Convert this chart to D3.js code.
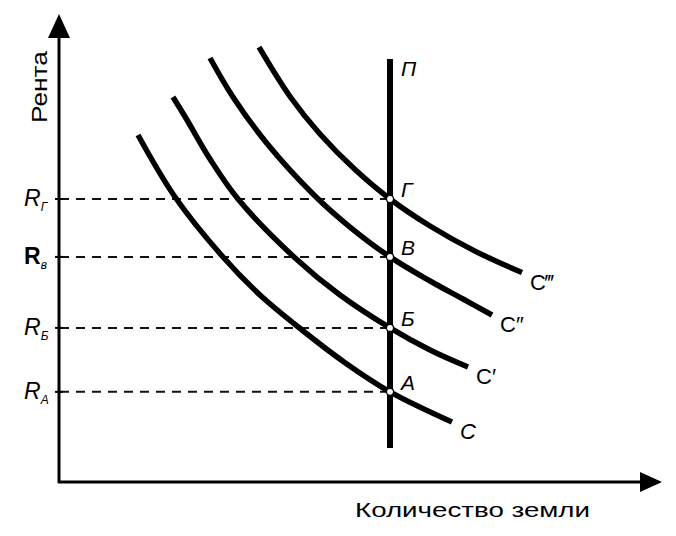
<!DOCTYPE html>
<html><head><meta charset="utf-8">
<script src="https://cdn.jsdelivr.net/npm/d3@7"></script>
<style>body{margin:0;background:#fff}svg{display:block}</style>
</head><body><div id="chart"></div>
<script>
// ---- data (units: quantity of land 0..100, rent 0..100) ----
const supplyX = 55;                    // П: fixed quantity of land
const supplyRange = [7.3, 90.6];
const rentLevels = [60.6, 48.2, 33.0, 19.3];           // R_Г, R_В, R_Б, R_А
const rentLabels = [["R","Г",true],["R","в",false],["R","Б",true],["R","A",true]];
const pointLabels = ["Г","В","Б","А"];
const curveNames = ["C","C′","C″","C‴"];
const curveC  = [[13,74.3],[19.17,61.03],[27.17,48.18],[33.33,40.04],[40.33,32.55],[47.5,25.55],[55,19.3],[65.33,12.85]];
const curveC1 = [[18.83,82.44],[21.17,77.52],[25,69.16],[29.67,60.6],[39,48.2],[46.67,40.04],[55,33],[61.67,28.27],[68,24.63]];
const curveC2 = [[25,90.79],[28.83,82.44],[34.5,72.48],[42.33,61.46],[48.33,54.6],[55,48.2],[61.67,43.04],[67.17,39.19],[72,35.76]];
const curveC3 = [[33.17,93.1],[38.33,82.55],[43.33,74.52],[49.17,66.9],[55,60.6],[61.67,54.82],[69.17,49.44],[77,44.84]];
const curves = [curveC, curveC1, curveC2, curveC3];
const xTitle = "Количество земли";
const yTitle = "Рента";

// ---- layout ----
const W = 676, H = 536;
const svg = d3.select("#chart").append("svg").attr("width", W).attr("height", H);
const x = d3.scaleLinear().domain([0,100]).range([60,660]);
const y = d3.scaleLinear().domain([0,100]).range([482,15]);
const font = "'Liberation Sans', Arial, sans-serif";

// dashed rent lines
svg.selectAll("line.dash").data(rentLevels).join("line")
  .attr("x1", x(0)).attr("x2", x(supplyX))
  .attr("y1", d => y(d)).attr("y2", d => y(d))
  .attr("stroke", "#111").attr("stroke-width", 2)
  .attr("stroke-dasharray", "9,7");

// axes
svg.append("line").attr("x1", x(0)-1).attr("x2", x(0)-1).attr("y1", y(0)+1).attr("y2", y(100)+20)
  .attr("stroke","#000").attr("stroke-width",3);
svg.append("path").attr("d", `M${x(0)-12},${y(100)+23} L${x(0)-1},${y(100)-1} L${x(0)+10},${y(100)+23} Z`).attr("fill","#000");
svg.append("line").attr("x1", x(0)-2).attr("x2", x(100)-18).attr("y1", y(0)).attr("y2", y(0))
  .attr("stroke","#000").attr("stroke-width",3);
svg.append("path").attr("d", `M${x(100)-20},${y(0)-10} L${x(100)+2},${y(0)} L${x(100)-20},${y(0)+10} Z`).attr("fill","#000");
// small ticks at rent levels
svg.selectAll("line.tick").data(rentLevels).join("line")
  .attr("x1", x(0)-5).attr("x2", x(0)+3)
  .attr("y1", d => y(d)).attr("y2", d => y(d))
  .attr("stroke","#000").attr("stroke-width",2);

// supply line П
svg.append("line").attr("x1", x(supplyX)).attr("x2", x(supplyX))
  .attr("y1", y(supplyRange[0])).attr("y2", y(supplyRange[1]))
  .attr("stroke","#000").attr("stroke-width",6);

// demand curves
const line = d3.line().x(d => x(d[0])).y(d => y(d[1])).curve(d3.curveCatmullRom.alpha(0.5));
svg.selectAll("path.curve").data(curves).join("path")
  .attr("d", line).attr("fill","none").attr("stroke","#000").attr("stroke-width",5.5)
  .attr("stroke-linecap","butt");

// intersection points
svg.selectAll("circle.pt").data(rentLevels).join("circle")
  .attr("cx", x(supplyX)).attr("cy", d => y(d)).attr("r", 3.5)
  .attr("fill","#fff").attr("stroke","#000").attr("stroke-width",1.2);

// point labels
svg.selectAll("text.pl").data(rentLevels).join("text")
  .attr("x", x(supplyX)+11).attr("y", d => y(d)-2)
  .attr("font-family", font).attr("font-size", 21).attr("font-style","italic")
  .text((d,i) => pointLabels[i]);
svg.append("text").attr("x", x(supplyX)+11).attr("y", y(supplyRange[1])+17)
  .attr("font-family", font).attr("font-size", 21).attr("font-style","italic").text("П");

// curve end labels
svg.selectAll("text.cl").data(curves).join("text")
  .attr("x", d => x(d[d.length-1][0])+8).attr("y", d => y(d[d.length-1][1])+17)
  .attr("font-family", font).attr("font-size", 22)
  .attr("font-style", (d,i) => i===0 ? "italic" : "normal")
  .text((d,i) => curveNames[i]);

// rent labels
const rl = svg.selectAll("text.rl").data(rentLevels).join("text")
  .attr("x", 24).attr("y", d => y(d)+7)
  .attr("font-family", font).attr("font-size", 23);
rl.append("tspan").attr("font-style", (d,i) => rentLabels[i][2] ? "italic" : "normal")
  .attr("font-weight", (d,i) => rentLabels[i][2] ? "normal" : "bold")
  .text((d,i) => rentLabels[i][0]);
rl.append("tspan").attr("dy", 5).attr("font-size", 12).attr("font-style","italic")
  .text((d,i) => rentLabels[i][1]);

// axis titles
svg.append("text").attr("transform", `translate(47,87) rotate(-90)`)
  .attr("text-anchor","middle").attr("font-family", font).attr("font-size", 22)
  .attr("textLength", 72).attr("lengthAdjust","spacingAndGlyphs").text(yTitle);
svg.append("text").attr("x", 355).attr("y", 517)
  .attr("font-family", font).attr("font-size", 20)
  .attr("textLength", 235).attr("lengthAdjust","spacingAndGlyphs").text(xTitle);
</script></body></html>
